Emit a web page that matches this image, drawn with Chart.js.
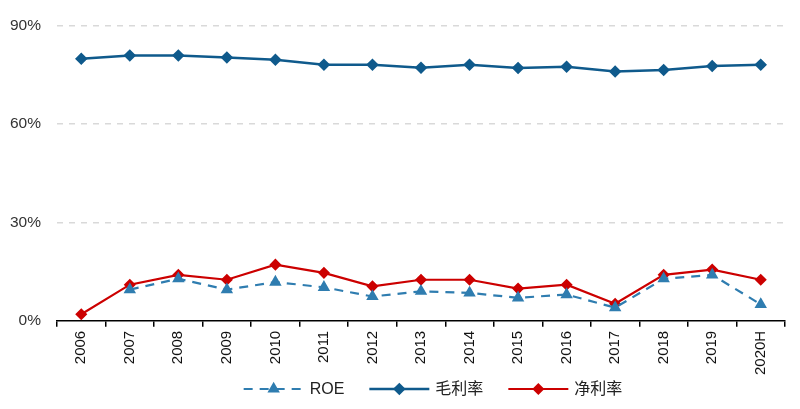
<!DOCTYPE html>
<html>
<head>
<meta charset="utf-8">
<script src="https://cdn.jsdelivr.net/npm/chart.js@4/dist/chart.umd.min.js"></script>
<style>
  html, body { margin: 0; padding: 0; background: #fff; }
  #wrap { width: 800px; height: 409px; }
</style>
</head>
<body>
<div id="wrap"><canvas id="myChart"></canvas></div>
<script>
const years = ["2006", "2007", "2008", "2009", "2010", "2011", "2012", "2013",
  "2014", "2015", "2016", "2017", "2018", "2019", "2020H"];
const roe = [null, 9.5, 12.8, 9.5, 11.8, 10.2, 7.4, 9.0, 8.5, 7.0, 8.0, 4.0, 12.8, 14.0, 5.0];
const grossMargin = [79.8, 80.8, 80.8, 80.2, 79.5, 78.0, 78.0, 77.1, 78.0, 77.0, 77.4, 75.9, 76.4, 77.6, 78.0];
const netMargin = [2.0, 11.0, 14.0, 12.5, 17.1, 14.6, 10.5, 12.5, 12.5, 9.8, 11.0, 5.2, 14.0, 15.6, 12.5];
const yTicks = [0, 30, 60, 90];

const FONT = "'Liberation Sans', Arial, 'Noto Sans CJK SC', sans-serif";

// legend with line + marker, drawn under the x labels
const lineLegend = {
  id: "lineLegend",
  afterDraw(chart) {
    const ctx = chart.ctx;
    const items = chart.data.datasets;
    const lineLen = 60, gap = 6, spacing = 25;
    ctx.save();
    ctx.font = "16px " + FONT;
    let total = 0;
    items.forEach((d, i) => {
      total += lineLen + gap + ctx.measureText(d.label).width;
      if (i < items.length - 1) total += spacing;
    });
    const area = chart.chartArea;
    let x = (area.left + area.right) / 2 - total / 2 + 12;
    const y = chart.height - 20;
    items.forEach((d) => {
      ctx.strokeStyle = d.borderColor;
      ctx.lineWidth = d.borderWidth;
      ctx.setLineDash(d.borderDash || []);
      ctx.beginPath();
      ctx.moveTo(x, y);
      ctx.lineTo(x + lineLen, y);
      ctx.stroke();
      ctx.setLineDash([]);
      ctx.fillStyle = d.pointBackgroundColor;
      Chart.helpers.drawPoint(ctx, {
        pointStyle: d.pointStyle,
        radius: d.pointRadius,
        borderWidth: 1
      }, x + lineLen / 2, y);
      ctx.fillStyle = "#222";
      ctx.textBaseline = "middle";
      ctx.textAlign = "left";
      ctx.fillText(d.label, x + lineLen + gap, y + 1);
      x += lineLen + gap + ctx.measureText(d.label).width + spacing;
    });
    ctx.restore();
  }
};

Chart.defaults.font.family = FONT;

new Chart("myChart", {
  type: "line",
  data: {
    labels: years,
    datasets: [
      {
        label: "ROE",
        data: roe,
        borderColor: "#2f7db0",
        backgroundColor: "#2f7db0",
        pointBackgroundColor: "#2f7db0",
        pointBorderColor: "#2f7db0",
        borderWidth: 2.2,
        borderDash: [9, 7],
        pointStyle: "triangle",
        pointRadius: 5,
        tension: 0
      },
      {
        label: "毛利率",
        data: grossMargin,
        borderColor: "#0f5a8c",
        backgroundColor: "#0f5a8c",
        pointBackgroundColor: "#0f5a8c",
        pointBorderColor: "#0f5a8c",
        borderWidth: 2.5,
        pointStyle: "rectRot",
        pointRadius: 4.5,
        tension: 0
      },
      {
        label: "净利率",
        data: netMargin,
        borderColor: "#cc0000",
        backgroundColor: "#cc0000",
        pointBackgroundColor: "#cc0000",
        pointBorderColor: "#cc0000",
        borderWidth: 2.2,
        pointStyle: "rectRot",
        pointRadius: 4.5,
        tension: 0
      }
    ]
  },
  options: {
    responsive: true,
    maintainAspectRatio: false,
    animation: false,
    layout: { padding: { top: 8, left: 2, right: 15, bottom: 30 } },
    plugins: {
      legend: { display: false },
      tooltip: { enabled: false }
    },
    scales: {
      x: {
        offset: true,
        grid: {
          offset: true,
          drawOnChartArea: false,
          drawTicks: true,
          tickLength: 6,
          color: "#000",
          lineWidth: 1.5
        },
        border: { display: true, color: "#000", width: 1.5 },
        ticks: {
          minRotation: 90,
          maxRotation: 90,
          padding: 4,
          color: "#111",
          font: { size: 15 }
        }
      },
      y: {
        min: 0,
        max: 90,
        afterBuildTicks: (axis) => {
          axis.ticks = yTicks.map((v) => ({ value: v }));
        },
        afterFit: (axis) => {
          axis.width = 55;
        },
        grid: {
          drawTicks: false,
          color: (c) => (c.tick && c.tick.value === 0 ? "rgba(0,0,0,0)" : "#d9d9d9"),
          lineWidth: 1.5
        },
        border: { display: false, dash: [6, 6] },
        ticks: {
          padding: 16,
          color: "#333",
          font: { size: 15.5 },
          callback: (v) => v + "%"
        }
      }
    }
  },
  plugins: [lineLegend]
});
</script>
</body>
</html>
